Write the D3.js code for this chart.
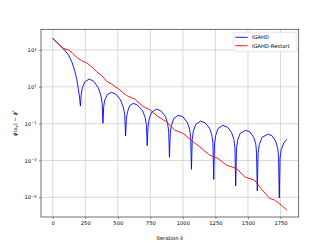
<!DOCTYPE html>
<html>
<head>
<meta charset="utf-8">
<script src="https://cdn.jsdelivr.net/npm/d3@7"></script>
<style>
	html, body { margin: 0; padding: 0; background: #fff; }
	svg { display: block; font-family: "DejaVu Sans", sans-serif; }
</style>
</head>
<body>
<div id="chart"></div>
<script>
// iteration numbers and log10 of the gap
var igahdIter = [0, 40, 81, 120, 150, 171, 185, 196, 205,
	213, 219, 228, 248, 281, 315, 350, 370, 380,
	386, 392, 401, 420, 450, 485, 520, 542, 553,
	560, 566, 575, 592, 618, 650, 690, 710, 720,
	726, 732, 741, 760, 797, 830, 865, 882, 891,
	897, 903, 912, 930, 963, 1000, 1035, 1052, 1060,
	1066, 1072, 1081, 1100, 1135, 1170, 1205, 1222, 1231,
	1237, 1243, 1252, 1270, 1308, 1345, 1375, 1392, 1400,
	1406, 1412, 1421, 1440, 1482, 1515, 1545, 1560, 1566,
	1572, 1578, 1587, 1608, 1653, 1685, 1713, 1728, 1735,
	1741, 1747, 1756, 1775, 1799];
var igahdLogGap = [3.64, 3.35, 3.07, 2.75, 2.3, 1.82, 1.4, 0.92, 0.5,
	-0.05, 0.6, 0.95, 1.28, 1.42, 1.3, 0.95, 0.55, 0.1,
	-0.98, -0.05, 0.3, 0.58, 0.7, 0.6, 0.3, -0.1, -0.5,
	-1.67, -0.7, -0.35, -0.02, 0.1, 0.02, -0.3, -0.65, -1.1,
	-2.2, -1.2, -0.75, -0.38, -0.21, -0.3, -0.6, -0.95, -1.4,
	-2.83, -1.55, -1.1, -0.72, -0.55, -0.62, -0.95, -1.3, -1.75,
	-3.48, -1.85, -1.4, -1.03, -0.86, -0.95, -1.25, -1.6, -2.05,
	-4.03, -2.1, -1.65, -1.27, -1.09, -1.2, -1.5, -1.85, -2.3,
	-4.38, -2.35, -1.9, -1.53, -1.36, -1.45, -1.75, -2.1, -2.55,
	-4.65, -2.6, -2.15, -1.75, -1.57, -1.65, -1.95, -2.3, -2.75,
	-5.04, -2.85, -2.4, -2.05, -1.85];

var restartIter = [0, 40, 81, 120, 150, 184, 222, 261, 299, 337, 376, 414, 452, 503,
	567, 631, 695, 746, 810, 874, 938, 1002, 1078, 1130, 1206, 1270, 1334,
	1411, 1475, 1551, 1600, 1666, 1705, 1756, 1800];
var restartLogGap = [3.64, 3.35, 3.09, 3.0, 2.85, 2.6, 2.42, 2.3, 2.09, 1.82, 1.62, 1.3, 1.15, 0.9,
	0.53, 0.33, -0.08, -0.24, -0.62, -0.9, -1.35, -1.53, -1.98, -2.26, -2.71, -2.89, -3.25,
	-3.43, -3.89, -4.07, -4.52, -5.06, -5.15, -5.42, -5.7];

var xTicks = [0, 250, 500, 750, 1000, 1250, 1500, 1750];
var yTickExps = [-5, -3, -1, 1, 3];

var seriesNames = ['IGAHD', 'IGAHD-Restart'];
var seriesColors = ['#0000ff', '#ff0000'];

(function() {
	"use strict";

	var W = 332, H = 249;
	var box = { left: 41, top: 29.3, right: 298.7, bottom: 217 };
	var fontSize = 5.2;

	var svg = d3.select('#chart')
		.append('svg')
		.attr('width', W)
		.attr('height', H);

	var x = d3.scaleLinear()
		.domain([-90, 1890])
		.range([box.left, box.right]);

	var y = d3.scaleLog()
		.domain([Math.pow(10, -6.07), Math.pow(10, 4.124)])
		.range([box.bottom, box.top]);

	function toPoints(iters, logs) {
		return iters.map(function (k, i) { return [k, Math.pow(10, logs[i])]; });
	}

	drawGrid(svg, x, y, box);
	drawSeries(svg, x, y, box, [toPoints(igahdIter, igahdLogGap), toPoints(restartIter, restartLogGap)]);
	drawAxes(svg, x, y, box, fontSize);
	drawLegend(svg, fontSize);
	drawLabels(svg, box, fontSize);

	function drawGrid(svg, x, y, box) {
		var g = svg.append('g')
			.attr('stroke', '#cfcfcf')
			.attr('stroke-width', 0.8);

		g.selectAll('.vgrid')
			.data(xTicks)
			.enter()
			.append('line')
			.attr('x1', function (d) { return x(d); })
			.attr('x2', function (d) { return x(d); })
			.attr('y1', box.top)
			.attr('y2', box.bottom);

		g.selectAll('.hgrid')
			.data(yTickExps)
			.enter()
			.append('line')
			.attr('x1', box.left)
			.attr('x2', box.right)
			.attr('y1', function (d) { return y(Math.pow(10, d)); })
			.attr('y2', function (d) { return y(Math.pow(10, d)); });
	}

	function drawSeries(svg, x, y, box, series) {
		svg.append('clipPath')
			.attr('id', 'plot-clip')
			.append('rect')
			.attr('x', box.left)
			.attr('y', box.top)
			.attr('width', box.right - box.left)
			.attr('height', box.bottom - box.top);

		var line = d3.line()
			.x(function (d) { return x(d[0]); })
			.y(function (d) { return y(d[1]); });

		svg.append('g')
			.attr('clip-path', 'url(#plot-clip)')
			.selectAll('path')
			.data(series)
			.enter()
			.append('path')
			.attr('fill', 'none')
			.attr('stroke', function (d, i) { return seriesColors[i]; })
			.attr('stroke-width', 0.9)
			.attr('stroke-linejoin', 'round')
			.attr('d', line);
	}

	function drawAxes(svg, x, y, box, fontSize) {
		var xAxis = svg.append('g')
			.attr('transform', 'translate(0,' + box.bottom + ')')
			.call(d3.axisBottom(x)
				.tickValues(xTicks)
				.tickSize(2)
				.tickPadding(2.5)
				.tickFormat(d3.format('d')));

		var yAxis = svg.append('g')
			.attr('transform', 'translate(' + box.left + ',0)')
			.call(d3.axisLeft(y)
				.tickValues(yTickExps.map(function (e) { return Math.pow(10, e); }))
				.tickSize(2)
				.tickPadding(2.5)
				.tickFormat(''));

		[xAxis, yAxis].forEach(function (axis) {
			axis.select('.domain').remove();
			axis.selectAll('.tick line').attr('stroke', '#333').attr('stroke-width', 0.6);
			axis.selectAll('text')
				.attr('font-size', fontSize)
				.attr('font-family', '"DejaVu Sans", sans-serif')
				.attr('fill', '#000');
		});

		yAxis.selectAll('.tick text')
			.attr('dy', '0.32em')
			.each(function (d) {
				var t = d3.select(this);
				var e = Math.round(Math.log10(d));
				t.append('tspan').text('10');
				t.append('tspan')
					.attr('font-size', fontSize * 0.7)
					.attr('dy', '-0.45em')
					.text(e < 0 ? '\u2212' + (-e) : String(e));
			});

		svg.append('rect')
			.attr('x', box.left)
			.attr('y', box.top)
			.attr('width', box.right - box.left)
			.attr('height', box.bottom - box.top)
			.attr('fill', 'none')
			.attr('stroke', '#333')
			.attr('stroke-width', 0.7);
	}

	function drawLegend(svg, fontSize) {
		var lg = svg.append('g')
			.attr('transform', 'translate(233.7,32.3)');

		lg.append('rect')
			.attr('width', 62.5)
			.attr('height', 19.4)
			.attr('rx', 1.2)
			.attr('fill', '#fff')
			.attr('fill-opacity', 0.85)
			.attr('stroke', '#d6d6d6')
			.attr('stroke-width', 0.6);

		var items = lg.selectAll('.item')
			.data(seriesNames)
			.enter()
			.append('g')
			.attr('transform', function (d, i) { return 'translate(0,' + (5 + i * 8.4) + ')'; });

		items.append('line')
			.attr('x1', 1.5)
			.attr('x2', 14)
			.attr('stroke', function (d, i) { return seriesColors[i]; })
			.attr('stroke-width', 0.9);

		items.append('text')
			.attr('x', 18.3)
			.attr('dy', '0.36em')
			.attr('font-size', fontSize)
			.text(function (d) { return d; });
	}

	function drawLabels(svg, box, fontSize) {
		svg.append('text')
			.attr('x', (box.left + box.right) / 2)
			.attr('y', 240)
			.attr('text-anchor', 'middle')
			.attr('font-size', fontSize)
			.call(function (t) {
				t.append('tspan').text('Iteration ');
				t.append('tspan').attr('font-style', 'italic').text('k');
			});

		var yl = svg.append('text')
			.attr('transform', 'translate(17,' + ((box.top + box.bottom) / 2) + ') rotate(-90)')
			.attr('text-anchor', 'middle')
			.attr('font-size', fontSize);

		yl.append('tspan').attr('font-style', 'italic').text('\u03d5');
		yl.append('tspan').text('(');
		yl.append('tspan').attr('font-style', 'italic').text('x');
		yl.append('tspan').attr('font-style', 'italic').attr('font-size', fontSize * 0.7).attr('dy', '0.3em').text('k');
		yl.append('tspan').attr('dy', '-0.21em').text(') \u2212 ');
		yl.append('tspan').attr('font-style', 'italic').text('\u03d5');
		yl.append('tspan').attr('font-size', fontSize * 0.7).attr('dy', '-0.45em').text('*');
	}
}());
</script>
</body>
</html>
